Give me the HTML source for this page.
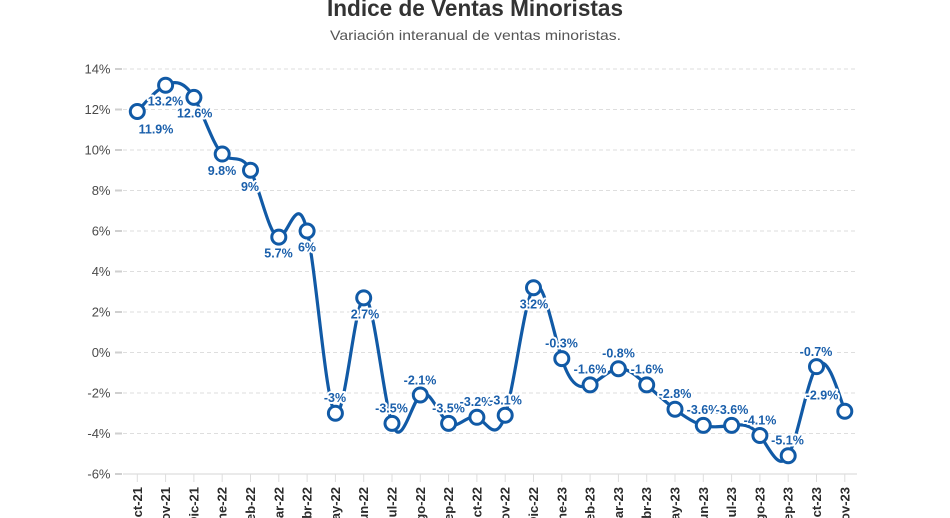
<!DOCTYPE html>
<html>
<head>
<meta charset="utf-8">
<style>
  html,body{margin:0;padding:0;background:#fff;}
  body{width:950px;height:518px;overflow:hidden;}
  svg{display:block;font-family:"Liberation Sans",Arial,sans-serif;}
</style>
</head>
<body>
<svg id="chart" width="950" height="518" viewBox="0 0 950 518" xmlns="http://www.w3.org/2000/svg">
  <rect x="0" y="0" width="950" height="518" fill="#fff"/>

  <!-- Title -->
  <text x="327" y="16" font-size="23" font-weight="bold" fill="#333" textLength="296" lengthAdjust="spacingAndGlyphs">Indice de Ventas Minoristas</text>
  <text x="330" y="40" font-size="14" fill="#555" textLength="291" lengthAdjust="spacingAndGlyphs">Variación interanual de ventas minoristas.</text>

  <!-- Gridlines -->
  <g stroke="#dedede" stroke-width="1" stroke-dasharray="4,3">
    <line x1="123" x2="857" y1="69" y2="69"/>
    <line x1="123" x2="857" y1="109.5" y2="109.5"/>
    <line x1="123" x2="857" y1="150" y2="150"/>
    <line x1="123" x2="857" y1="190.5" y2="190.5"/>
    <line x1="123" x2="857" y1="231" y2="231"/>
    <line x1="123" x2="857" y1="271.5" y2="271.5"/>
    <line x1="123" x2="857" y1="312" y2="312"/>
    <line x1="123" x2="857" y1="352.5" y2="352.5"/>
    <line x1="123" x2="857" y1="393" y2="393"/>
    <line x1="123" x2="857" y1="433.5" y2="433.5"/>
  </g>
  <line x1="123" x2="857" y1="474" y2="474" stroke="#e4e4e4" stroke-width="1.5"/>

  <!-- Y ticks -->
  <g stroke="#cfcfcf" stroke-width="2">
    <line x1="115" x2="122" y1="69" y2="69"/>
    <line x1="115" x2="122" y1="109.5" y2="109.5"/>
    <line x1="115" x2="122" y1="150" y2="150"/>
    <line x1="115" x2="122" y1="190.5" y2="190.5"/>
    <line x1="115" x2="122" y1="231" y2="231"/>
    <line x1="115" x2="122" y1="271.5" y2="271.5"/>
    <line x1="115" x2="122" y1="312" y2="312"/>
    <line x1="115" x2="122" y1="352.5" y2="352.5"/>
    <line x1="115" x2="122" y1="393" y2="393"/>
    <line x1="115" x2="122" y1="433.5" y2="433.5"/>
    <line x1="115" x2="122" y1="474" y2="474"/>
  </g>
  <g font-size="13" fill="#4a4a4a" text-anchor="end">
    <text x="110.5" y="73.5">14%</text>
    <text x="110.5" y="114">12%</text>
    <text x="110.5" y="154.5">10%</text>
    <text x="110.5" y="195">8%</text>
    <text x="110.5" y="235.5">6%</text>
    <text x="110.5" y="276">4%</text>
    <text x="110.5" y="316.5">2%</text>
    <text x="110.5" y="357">0%</text>
    <text x="110.5" y="397.5">-2%</text>
    <text x="110.5" y="438">-4%</text>
    <text x="110.5" y="478.5">-6%</text>
  </g>

  <!-- X ticks -->
  <g stroke="#dddddd" stroke-width="1">
    <line x1="137.3" x2="137.3" y1="474" y2="482"/>
    <line x1="165.6" x2="165.6" y1="474" y2="482"/>
    <line x1="193.9" x2="193.9" y1="474" y2="482"/>
    <line x1="222.2" x2="222.2" y1="474" y2="482"/>
    <line x1="250.5" x2="250.5" y1="474" y2="482"/>
    <line x1="278.8" x2="278.8" y1="474" y2="482"/>
    <line x1="307.1" x2="307.1" y1="474" y2="482"/>
    <line x1="335.4" x2="335.4" y1="474" y2="482"/>
    <line x1="363.7" x2="363.7" y1="474" y2="482"/>
    <line x1="392" x2="392" y1="474" y2="482"/>
    <line x1="420.3" x2="420.3" y1="474" y2="482"/>
    <line x1="448.6" x2="448.6" y1="474" y2="482"/>
    <line x1="476.9" x2="476.9" y1="474" y2="482"/>
    <line x1="505.2" x2="505.2" y1="474" y2="482"/>
    <line x1="533.5" x2="533.5" y1="474" y2="482"/>
    <line x1="561.8" x2="561.8" y1="474" y2="482"/>
    <line x1="590.1" x2="590.1" y1="474" y2="482"/>
    <line x1="618.4" x2="618.4" y1="474" y2="482"/>
    <line x1="646.7" x2="646.7" y1="474" y2="482"/>
    <line x1="675" x2="675" y1="474" y2="482"/>
    <line x1="703.3" x2="703.3" y1="474" y2="482"/>
    <line x1="731.6" x2="731.6" y1="474" y2="482"/>
    <line x1="759.9" x2="759.9" y1="474" y2="482"/>
    <line x1="788.2" x2="788.2" y1="474" y2="482"/>
    <line x1="816.5" x2="816.5" y1="474" y2="482"/>
    <line x1="844.8" x2="844.8" y1="474" y2="482"/>
  </g>
  <g font-size="13" font-weight="bold" fill="#2b2b2b" text-anchor="end">
    <text transform="translate(141.8,487) rotate(-90)">Oct-21</text>
    <text transform="translate(170.1,487) rotate(-90)">Nov-21</text>
    <text transform="translate(198.4,487) rotate(-90)">Dic-21</text>
    <text transform="translate(226.7,487) rotate(-90)">Ene-22</text>
    <text transform="translate(255,487) rotate(-90)">Feb-22</text>
    <text transform="translate(283.3,487) rotate(-90)">Mar-22</text>
    <text transform="translate(311.6,487) rotate(-90)">Abr-22</text>
    <text transform="translate(339.9,487) rotate(-90)">May-22</text>
    <text transform="translate(368.2,487) rotate(-90)">Jun-22</text>
    <text transform="translate(396.5,487) rotate(-90)">Jul-22</text>
    <text transform="translate(424.8,487) rotate(-90)">Ago-22</text>
    <text transform="translate(453.1,487) rotate(-90)">Sep-22</text>
    <text transform="translate(481.4,487) rotate(-90)">Oct-22</text>
    <text transform="translate(509.7,487) rotate(-90)">Nov-22</text>
    <text transform="translate(538,487) rotate(-90)">Dic-22</text>
    <text transform="translate(566.3,487) rotate(-90)">Ene-23</text>
    <text transform="translate(594.6,487) rotate(-90)">Feb-23</text>
    <text transform="translate(622.9,487) rotate(-90)">Mar-23</text>
    <text transform="translate(651.2,487) rotate(-90)">Abr-23</text>
    <text transform="translate(679.5,487) rotate(-90)">May-23</text>
    <text transform="translate(707.8,487) rotate(-90)">Jun-23</text>
    <text transform="translate(736.1,487) rotate(-90)">Jul-23</text>
    <text transform="translate(764.4,487) rotate(-90)">Ago-23</text>
    <text transform="translate(792.7,487) rotate(-90)">Sep-23</text>
    <text transform="translate(821,487) rotate(-90)">Oct-23</text>
    <text transform="translate(849.3,487) rotate(-90)">Nov-23</text>
  </g>

  <!-- Series line (fallback linear; replaced by natural spline via script) -->
  <path id="series" fill="none" stroke="#115aa6" stroke-width="3.2" stroke-linejoin="round" stroke-linecap="round"
    d="M137.3,111.525L165.6,85.2L193.9,97.35L222.2,154.05L250.5,170.25L278.8,237.075L307.1,231L335.4,413.25L363.7,297.825L392,423.375L420.3,395.025L448.6,423.375L476.9,417.3L505.2,415.275L533.5,287.7L561.8,358.575L590.1,384.9L618.4,368.7L646.7,384.9L675,409.2L703.3,425.4L731.6,425.4L759.9,435.525L788.2,455.775L816.5,366.675L844.8,411.225"/>

  <!-- Markers -->
  <g fill="#fff" stroke="#115aa6" stroke-width="3">
    <circle cx="137.3" cy="111.525" r="7"/>
    <circle cx="165.6" cy="85.2" r="7"/>
    <circle cx="193.9" cy="97.35" r="7"/>
    <circle cx="222.2" cy="154.05" r="7"/>
    <circle cx="250.5" cy="170.25" r="7"/>
    <circle cx="278.8" cy="237.075" r="7"/>
    <circle cx="307.1" cy="231" r="7"/>
    <circle cx="335.4" cy="413.25" r="7"/>
    <circle cx="363.7" cy="297.825" r="7"/>
    <circle cx="392" cy="423.375" r="7"/>
    <circle cx="420.3" cy="395.025" r="7"/>
    <circle cx="448.6" cy="423.375" r="7"/>
    <circle cx="476.9" cy="417.3" r="7"/>
    <circle cx="505.2" cy="415.275" r="7"/>
    <circle cx="533.5" cy="287.7" r="7"/>
    <circle cx="561.8" cy="358.575" r="7"/>
    <circle cx="590.1" cy="384.9" r="7"/>
    <circle cx="618.4" cy="368.7" r="7"/>
    <circle cx="646.7" cy="384.9" r="7"/>
    <circle cx="675" cy="409.2" r="7"/>
    <circle cx="703.3" cy="425.4" r="7"/>
    <circle cx="731.6" cy="425.4" r="7"/>
    <circle cx="759.9" cy="435.525" r="7"/>
    <circle cx="788.2" cy="455.775" r="7"/>
    <circle cx="816.5" cy="366.675" r="7"/>
    <circle cx="844.8" cy="411.225" r="7"/>
  </g>

  <!-- Data labels -->
  <g font-size="12.5" font-weight="bold" fill="#1a5fab" stroke="#fff" stroke-width="4" stroke-linejoin="round" paint-order="stroke" text-anchor="middle">
    <text x="156" y="133.5">11.9%</text>
    <text x="165.5" y="105.5">13.2%</text>
    <text x="194.7" y="117.5">12.6%</text>
    <text x="222" y="175">9.8%</text>
    <text x="250" y="191">9%</text>
    <text x="278.5" y="257.5">5.7%</text>
    <text x="307" y="251.5">6%</text>
    <text x="335" y="402">-3%</text>
    <text x="365" y="318.5">2.7%</text>
    <text x="391.5" y="412.5">-3.5%</text>
    <text x="420" y="384.5">-2.1%</text>
    <text x="448.5" y="412.5">-3.5%</text>
    <text x="476" y="406">-3.2%</text>
    <text x="505.5" y="404.5">-3.1%</text>
    <text x="534" y="308.5">3.2%</text>
    <text x="561.5" y="347.5">-0.3%</text>
    <text x="590" y="373.5">-1.6%</text>
    <text x="618.5" y="357.5">-0.8%</text>
    <text x="647" y="373.5">-1.6%</text>
    <text x="675" y="398">-2.8%</text>
    <text x="703" y="414">-3.6%</text>
    <text x="732" y="414">-3.6%</text>
    <text x="760" y="424.5">-4.1%</text>
    <text x="787.5" y="444.5">-5.1%</text>
    <text x="816" y="356">-0.7%</text>
    <text x="822" y="399.5">-2.9%</text>
  </g>
</svg>
<script>
(function(){
  var vals=[11.9,13.2,12.6,9.8,9,5.7,6,-3,2.7,-3.5,-2.1,-3.5,-3.2,-3.1,3.2,-0.3,-1.6,-0.8,-1.6,-2.8,-3.6,-3.6,-4.1,-5.1,-0.7,-2.9];
  var xs=[],ys=[];
  for(var i=0;i<vals.length;i++){xs.push(137.3+i*28.3);ys.push(352.5-vals[i]*20.25);}
  function cp(x){
    var i,n=x.length-1,m,a=new Array(n),b=new Array(n),r=new Array(n);
    a[0]=0;b[0]=2;r[0]=x[0]+2*x[1];
    for(i=1;i<n-1;++i){a[i]=1;b[i]=4;r[i]=4*x[i]+2*x[i+1];}
    a[n-1]=2;b[n-1]=7;r[n-1]=8*x[n-1]+x[n];
    for(i=1;i<n;++i){m=a[i]/b[i-1];b[i]-=m;r[i]-=m*r[i-1];}
    a[n-1]=r[n-1]/b[n-1];
    for(i=n-2;i>=0;--i)a[i]=(r[i]-a[i+1])/b[i];
    b[n-1]=(x[n]+a[n-1])/2;
    for(i=0;i<n-1;++i)b[i]=2*x[i+1]-a[i+1];
    return [a,b];
  }
  var px=cp(xs),py=cp(ys);
  var d="M"+xs[0]+","+ys[0];
  for(var k=0;k<xs.length-1;k++){
    d+="C"+px[0][k].toFixed(2)+","+py[0][k].toFixed(2)+","+px[1][k].toFixed(2)+","+py[1][k].toFixed(2)+","+xs[k+1].toFixed(2)+","+ys[k+1].toFixed(2);
  }
  document.getElementById("series").setAttribute("d",d);
})();
</script>
</body>
</html>
